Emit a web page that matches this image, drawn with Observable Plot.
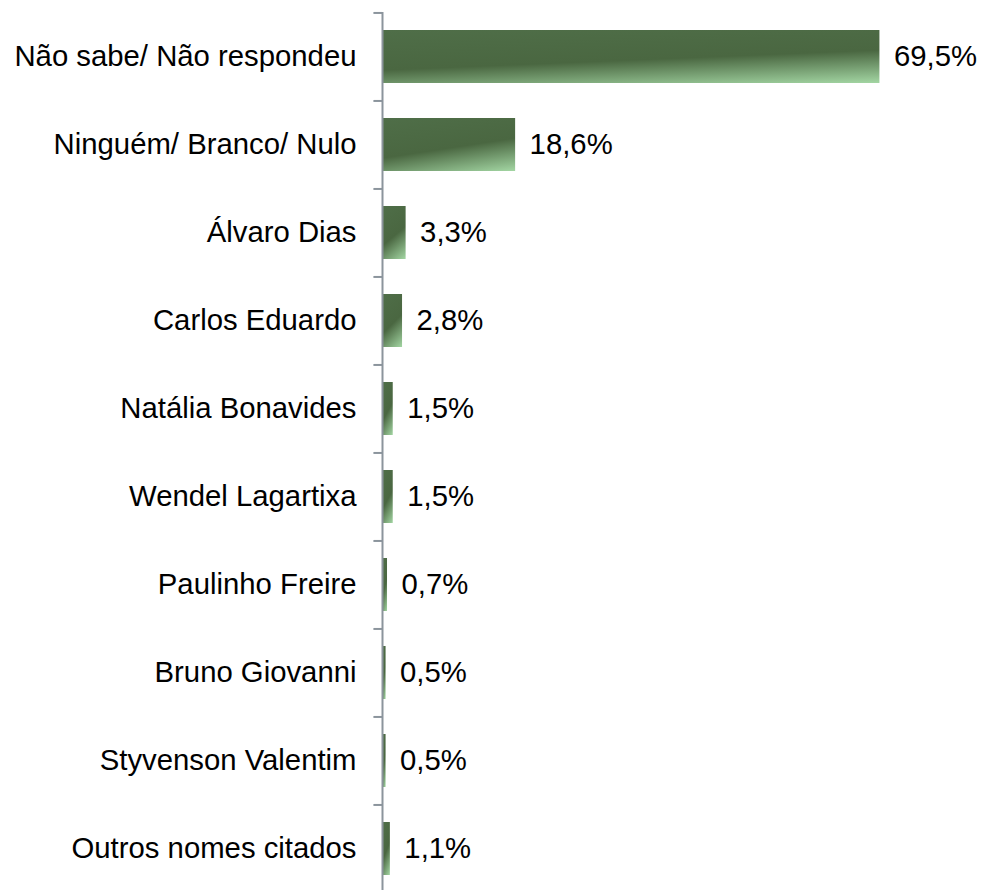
<!DOCTYPE html>
<html>
<head>
<meta charset="utf-8">
<script src="https://cdn.jsdelivr.net/npm/d3@7"></script>
<script src="https://cdn.jsdelivr.net/npm/@observablehq/plot@0.6"></script>
<style>
  body { margin: 0; background: #fff; }
  #chart svg { display: block; }
</style>
</head>
<body>
<div id="chart"></div>
<script>
const categories = [
  "Não sabe/ Não respondeu",
  "Ninguém/ Branco/ Nulo",
  "Álvaro Dias",
  "Carlos Eduardo",
  "Natália Bonavides",
  "Wendel Lagartixa",
  "Paulinho Freire",
  "Bruno Giovanni",
  "Styvenson Valentim",
  "Outros nomes citados"
];
const values = [69.5, 18.6, 3.3, 2.8, 1.5, 1.5, 0.7, 0.5, 0.5, 1.1];

const data = categories.map((c, i) => ({name: c, value: values[i]}));
const fmt = v => v.toFixed(1).replace(".", ",") + "%";

const W = 981, H = 890;
const yTop = 12, yBottom = 893;
const step = (yBottom - yTop) / categories.length;

const plot = Plot.plot({
  width: W,
  height: H,
  marginTop: yTop, marginBottom: 0, marginLeft: 382, marginRight: 98,
  style: {fontFamily: "'Liberation Sans', Arial, sans-serif", fontSize: "29px", color: "#000", background: "#fff"},
  x: {domain: [0, 70], axis: null},
  y: {domain: categories, range: [yTop, yBottom], paddingInner: 0.4, paddingOuter: 0.2, axis: null},
  marks: [
    Plot.barX(data, {x: "value", y: "name", fill: "url(#barGrad)"}),
    Plot.ruleX([0], {stroke: "#8b949c", strokeWidth: 2}),
    Plot.ruleY(categories, {y: d => d, dy: -step / 2, x1: -1.2, x2: 0, stroke: "#8b949c", strokeWidth: 2}),
    Plot.text(categories, {x: 0, y: d => d, text: d => d, textAnchor: "end", dx: -26, fill: "#000", fontSize: 29.3}),
    Plot.text(data, {x: "value", y: "name", text: d => fmt(d.value), textAnchor: "start", dx: 14, fill: "#000", fontSize: 29.3})
  ]
});

const svg = d3.select(plot);
const defs = svg.insert("defs", ":first-child");
const g = defs.append("linearGradient")
  .attr("id", "barGrad")
  .attr("gradientUnits", "objectBoundingBox")
  .attr("x1", 0).attr("y1", 0).attr("x2", 0.458).attr("y2", 1.206);
g.append("stop").attr("offset", 0).attr("stop-color", "#4f6e48");
g.append("stop").attr("offset", 0.55).attr("stop-color", "#4a6741");
g.append("stop").attr("offset", 1).attr("stop-color", "#a3d6a3");

document.getElementById("chart").appendChild(plot);
</script>
</body>
</html>
